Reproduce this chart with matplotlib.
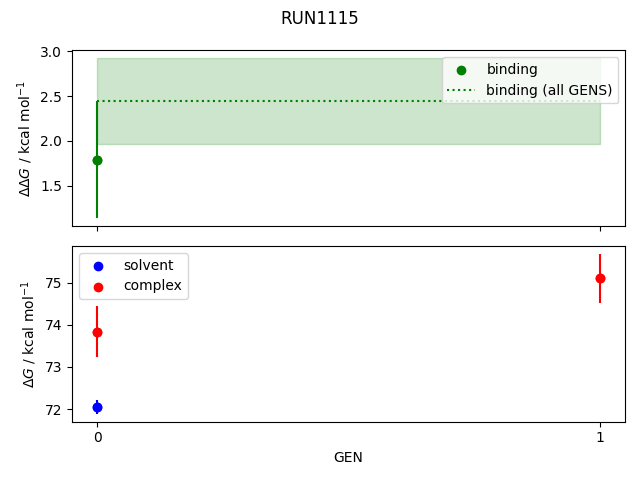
import matplotlib
matplotlib.use('Agg')
import matplotlib.pyplot as plt
import numpy as np

# binding free energy per GEN
gens_binding = [0]
binding = [1.79]
binding_err = [0.65]

# all-GEN estimate
gens_all = [0, 1]
binding_all = 2.44
binding_all_err = 0.48

# solvent / complex legs
gens_solvent = [0]
solvent = [72.05]
solvent_err = [0.16]

gens_complex = [0, 1]
complex_ = [73.84, 75.10]
complex_err = [0.61, 0.58]

fig, (ax1, ax2) = plt.subplots(2, 1, sharex=True, figsize=(6.4, 4.8), dpi=100)
fig.suptitle('RUN1115')

ax1.scatter(gens_binding, binding, color='green', label='binding')
ax1.errorbar(gens_binding, binding, yerr=binding_err, color='green', fmt='o')
ax1.hlines(binding_all, gens_all[0], gens_all[-1], color='green', linestyle=':',
           label='binding (all GENS)')
ax1.fill_between(gens_all, binding_all - binding_all_err, binding_all + binding_all_err,
                 color='green', alpha=0.2)
ax1.set_ylabel(r'$\Delta\Delta G$ / kcal mol$^{-1}$')
ax1.legend(loc='upper right')

ax2.scatter(gens_solvent, solvent, color='blue', label='solvent')
ax2.errorbar(gens_solvent, solvent, yerr=solvent_err, color='blue', fmt='o')
ax2.scatter(gens_complex, complex_, color='red', label='complex')
ax2.errorbar(gens_complex, complex_, yerr=complex_err, color='red', fmt='o')
ax2.set_ylabel(r'$\Delta G$ / kcal mol$^{-1}$')
ax2.set_xlabel('GEN')
ax2.set_xticks(gens_complex)
ax2.legend(loc='upper left')

fig.subplots_adjust(left=0.1125, right=0.977, top=0.895, bottom=0.1215, hspace=0.114)
fig.savefig('out.png')
